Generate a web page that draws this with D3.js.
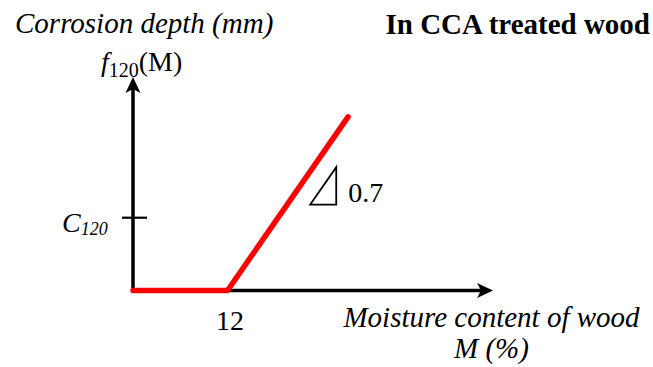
<!DOCTYPE html>
<html>
<head>
<meta charset="utf-8">
<script src="https://cdn.jsdelivr.net/npm/d3@7"></script>
<style>
  html, body { margin: 0; padding: 0; background: #fff; }
  svg { display: block; }
  text { font-family: "Liberation Serif", "Times New Roman", serif; fill: #000; }
</style>
</head>
<body>
<svg id="chart" width="653" height="367"></svg>
<script>
// ---- data ----
const moisture = [0, 12, 27.3];          // M (%)
const depth = [0, 0, 10.71];             // f120(M) (mm)
const xTickValues = [12];
const xTickLabels = ["12"];
const slopeValue = 0.7;
const slopeLabel = "0.7";
const c120Value = 4.49;
const xDomain = [0, 45.7];
const yDomain = [0, 13.17];
const triangleBase = [22.5, 5.3];        // [M, f] of triangle lower-left corner
const triangleRun = 3.3;

// ---- layout ----
const svg = d3.select("#chart");
const x = d3.scaleLinear().domain(xDomain).range([133, 493]);
const y = d3.scaleLinear().domain(yDomain).range([290.5, 77]);

// axes lines
const axisColor = "#000";
svg.append("line")
  .attr("x1", x(0)).attr("y1", y(0))
  .attr("x2", x(0)).attr("y2", y(yDomain[1]) + 12)
  .attr("stroke", axisColor).attr("stroke-width", 3.5);
svg.append("line")
  .attr("x1", x(0)).attr("y1", y(0))
  .attr("x2", x(xDomain[1]) - 12).attr("y2", y(0))
  .attr("stroke", axisColor).attr("stroke-width", 3.5);

// arrowheads
const yTip = [x(0), y(yDomain[1])];
svg.append("path")
  .attr("d", `M${yTip[0]},${yTip[1]} L${yTip[0] + 7.5},${yTip[1] + 16} L${yTip[0]},${yTip[1] + 12} L${yTip[0] - 7.5},${yTip[1] + 16} Z`)
  .attr("fill", axisColor);
const xTip = [x(xDomain[1]), y(0)];
svg.append("path")
  .attr("d", `M${xTip[0]},${xTip[1]} L${xTip[0] - 16},${xTip[1] - 7.5} L${xTip[0] - 12},${xTip[1]} L${xTip[0] - 16},${xTip[1] + 7.5} Z`)
  .attr("fill", axisColor);

// x tick label via d3 axis
const xAxis = d3.axisBottom(x).tickValues(xTickValues)
  .tickFormat((d, i) => xTickLabels[i]).tickSize(0).tickPadding(0);
const gx = svg.append("g").attr("transform", `translate(0,${y(0)})`).call(xAxis);
gx.select(".domain").remove();
gx.selectAll("text")
  .attr("y", 39).attr("dy", null)
  .attr("dx", 2)
  .style("font-family", '"Liberation Serif", serif')
  .style("font-size", "28px");

// C120 tick
svg.append("line")
  .attr("x1", x(0) - 11).attr("x2", x(0) + 14)
  .attr("y1", y(c120Value)).attr("y2", y(c120Value))
  .attr("stroke", axisColor).attr("stroke-width", 2.2);
const cLab = svg.append("text")
  .attr("x", 62).attr("y", y(c120Value) + 14)
  .style("font-size", "28px").style("font-style", "italic");
cLab.append("tspan").text("C");
cLab.append("tspan").attr("dy", 3).style("font-size", "18px").text("120");

// red curve
const line = d3.line().x((d, i) => x(moisture[i])).y((d, i) => y(depth[i]));
svg.append("path")
  .datum(moisture)
  .attr("d", line)
  .attr("fill", "none")
  .attr("stroke", "#ff0000")
  .attr("stroke-width", 5.5)
  .attr("stroke-linecap", "round")
  .attr("stroke-linejoin", "round");

// slope triangle
const [tx, ty] = triangleBase;
const tri = [[tx, ty], [tx + triangleRun, ty], [tx + triangleRun, ty + slopeValue * triangleRun]];
svg.append("path")
  .attr("d", "M" + tri.map(p => `${x(p[0])},${y(p[1])}`).join("L") + "Z")
  .attr("fill", "none").attr("stroke", "#000").attr("stroke-width", 1.8)
  .attr("stroke-linejoin", "miter");
svg.append("text")
  .attr("x", x(tx + triangleRun) + 12).attr("y", y(ty) - 3)
  .style("font-size", "28px").text(slopeLabel);

// y axis title
svg.append("text")
  .attr("x", 15).attr("y", 33)
  .style("font-size", "29px").style("font-style", "italic")
  .text("Corrosion depth (mm)");
const fLab = svg.append("text").attr("x", 101).attr("y", 71).style("font-size", "28px");
fLab.append("tspan").style("font-style", "italic").text("f");
fLab.append("tspan").attr("dy", 6).style("font-size", "20px").text("120");
fLab.append("tspan").attr("dy", -6).text("(M)");

// x axis title
svg.append("text")
  .attr("x", 491.5).attr("y", 327).attr("text-anchor", "middle")
  .style("font-size", "29px").style("font-style", "italic")
  .text("Moisture content of wood");
svg.append("text")
  .attr("x", 491.5).attr("y", 358).attr("text-anchor", "middle")
  .style("font-size", "29px").style("font-style", "italic")
  .text("M (%)");

// chart title
svg.append("text")
  .attr("x", 650).attr("y", 34).attr("text-anchor", "end")
  .style("font-size", "29px").style("font-weight", "bold")
  .text("In CCA treated wood");
</script>
</body>
</html>
